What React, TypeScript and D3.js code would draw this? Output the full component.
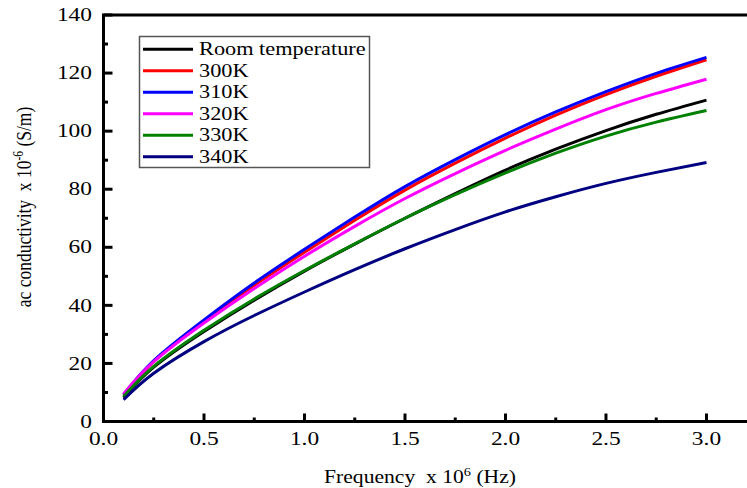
import React from "react";
import * as d3 from "d3";

// Frequency (x 10^6 Hz) at which each conductivity curve is sampled
const frequency = [0.1, 0.25, 0.5, 0.75, 1.0, 1.25, 1.5, 1.75, 2.0, 2.25, 2.5, 2.75, 3.0];

// ac conductivity (x 10^-6 S/m) for each temperature
const roomTemp = [8.2, 18.7, 31.0, 41.8, 51.8, 61.1, 70.0, 78.5, 86.6, 93.8, 100.2, 105.8, 110.7];
const k300 = [9.1, 20.6, 34.4, 46.9, 58.3, 69.3, 79.7, 89.0, 97.6, 105.5, 112.6, 118.9, 124.6];
const k310 = [9.3, 21.0, 35.0, 47.7, 59.3, 70.4, 80.9, 90.2, 98.8, 106.6, 113.6, 119.9, 125.4];
const k320 = [9.5, 20.6, 33.9, 45.8, 56.9, 67.2, 76.8, 85.4, 93.4, 100.7, 107.4, 113.0, 117.9];
const k330 = [8.6, 19.0, 31.4, 42.2, 52.0, 61.2, 70.0, 78.1, 85.6, 92.4, 98.3, 103.1, 107.1];
const k340 = [7.5, 16.6, 27.5, 36.5, 44.6, 52.3, 59.5, 66.1, 72.2, 77.4, 82.0, 85.8, 89.2];

const seriesNames = ["Room temperature", "300K", "310K", "320K", "330K", "340K"];
const seriesValues = [roomTemp, k300, k310, k320, k330, k340];
const seriesColors = ["#000000", "#ff0000", "#0000ff", "#ff00ff", "#008000", "#000080"];

const xMajorTicks = [0.0, 0.5, 1.0, 1.5, 2.0, 2.5, 3.0];
const xMinorTicks = [0.25, 0.75, 1.25, 1.75, 2.25, 2.75];
const yMajorTicks = [0, 20, 40, 60, 80, 100, 120, 140];
const yMinorTicks = [10, 30, 50, 70, 90, 110, 130];

const W = 747;
const H = 488;
const left = 103.5;
const top = 15;
const bottom = 421.5;
const right = 750.7;

const FONT = '"Liberation Serif", "Times New Roman", Times, "DejaVu Serif", serif';

export default function App() {
  const x = d3.scaleLinear().domain([0, 3.22]).range([left, right]);
  const y = d3.scaleLinear().domain([0, 140]).range([bottom, top]);

  const line = d3
    .line<number>()
    .x((_, i) => x(frequency[i]))
    .y((v) => y(v))
    .curve(d3.curveNatural);

  const tickSx = 1.3;
  const legendSx = 1.24;

  return (
    <svg
      width={W}
      height={H}
      style={{ position: "fixed", left: 0, top: 0, display: "block", background: "#fff", fontFamily: FONT }}
    >
      <rect x={0} y={0} width={W} height={H} fill="#fff" />

      {/* data curves */}
      <g fill="none" strokeWidth={3} strokeLinecap="butt" strokeLinejoin="round">
        {seriesValues.map((vals, i) => (
          <path key={seriesNames[i]} d={line(vals) ?? ""} stroke={seriesColors[i]} />
        ))}
      </g>

      {/* frame */}
      <g stroke="#000" strokeWidth={3} fill="none">
        <line x1={left} y1={top} x2={left} y2={bottom + 1.5} />
        <line x1={left - 1.5} y1={bottom} x2={right} y2={bottom} />
        <line x1={left - 1.5} y1={top} x2={right} y2={top} />
        <line x1={right} y1={top} x2={right} y2={bottom} />
      </g>

      {/* ticks */}
      <g stroke="#000" strokeWidth={3}>
        {xMajorTicks.map((t) => (
          <line key={"xM" + t} x1={x(t)} x2={x(t)} y1={bottom} y2={bottom - 8} />
        ))}
        {xMinorTicks.map((t) => (
          <line key={"xm" + t} x1={x(t)} x2={x(t)} y1={bottom} y2={bottom - 4} />
        ))}
        {yMajorTicks.map((t) => (
          <line key={"yM" + t} x1={left} x2={left + 9} y1={y(t)} y2={y(t)} />
        ))}
        {yMinorTicks.map((t) => (
          <line key={"ym" + t} x1={left} x2={left + 4.5} y1={y(t)} y2={y(t)} />
        ))}
      </g>

      {/* tick labels */}
      <g fontSize={18} fill="#000">
        {xMajorTicks.map((t) => (
          <g key={"xl" + t} transform={`translate(${x(t)},${444.5}) scale(${tickSx},1)`}>
            <text textAnchor="middle" style={{ fontFamily: FONT }}>{t.toFixed(1)}</text>
          </g>
        ))}
        {yMajorTicks.map((t) => (
          <g key={"yl" + t} transform={`translate(${92},${y(t) + 6.2}) scale(${tickSx},1)`}>
            <text textAnchor="end" style={{ fontFamily: FONT }}>{t}</text>
          </g>
        ))}
      </g>

      {/* axis titles */}
      <g transform={`translate(420,483) scale(1.2,1)`}>
        <text textAnchor="middle" style={{ fontFamily: FONT }} fontSize={18} fill="#000">
          Frequency{"\u00a0\u00a0"}x 10
          <tspan fontSize={12} dy={-7.5}>6</tspan>
          <tspan dy={7.5}> (Hz)</tspan>
        </text>
      </g>
      <g transform={`translate(31,207) scale(1.2,1) rotate(-90)`}>
        <text textAnchor="middle" style={{ fontFamily: FONT }} fontSize={17.5} fill="#000">
          ac conductivity{"\u00a0"} x 10
          <tspan fontSize={11.5} dy={-7}>-6</tspan>
          <tspan dy={7}> (S/m)</tspan>
        </text>
      </g>

      {/* legend */}
      <rect x={139.5} y={36.5} width={230} height={131} fill="#fff" stroke="#555" strokeWidth={1.5} />
      {seriesNames.map((name, i) => {
        const ly = 49.3 + i * 21.5;
        return (
          <g key={"lg" + name}>
            <line x1={143} x2={193} y1={ly} y2={ly} stroke={seriesColors[i]} strokeWidth={3} />
            <g transform={`translate(199,${ly + 6}) scale(${legendSx},1)`}>
              <text style={{ fontFamily: FONT }} fontSize={18} fill="#000">
                {name}
              </text>
            </g>
          </g>
        );
      })}
    </svg>
  );
}
